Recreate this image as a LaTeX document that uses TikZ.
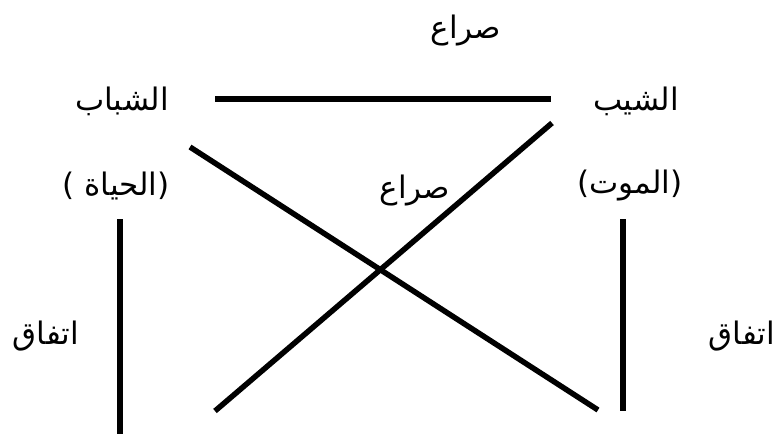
\documentclass[tikz,border=0pt]{standalone}
\usepackage{fontspec}
\newfontfamily\arabicfont[Script=Arabic]{DejaVu Sans}
\TeXXeTstate=1
\tikzset{
  term/.style={font=\arabicfont\fontsize{31}{36}\selectfont, inner sep=0pt, anchor=center},
  rel/.style={line width=5.5pt, black}
}
\newcommand{\ar}[1]{\beginR #1\endR}

\begin{document}
\begin{tikzpicture}[x=1pt,y=-1pt]
  \useasboundingbox (0,0) rectangle (784,434);
  % terms
  \node[term] (youth) at (122,101) {\ar{الشباب}};
  \node[term] (oldage) at (636,101) {\ar{الشيب}};
  \node[term] (life) at (116,186) {\ar{(الحياة )}};
  \node[term] (death) at (630,186) {\ar{(الموت)}};
  % relations
  \node[term] (conflicttop) at (466,31) {\ar{صراع}};
  \node[term] (conflictmid) at (415,191) {\ar{صراع}};
  \node[term] (agreeleft) at (46,336) {\ar{اتفاق}};
  \node[term] (agreeright) at (742,336) {\ar{اتفاق}};

  \coordinate (topL) at (215,99);
  \coordinate (topR) at (551,99);
  \coordinate (diagAa) at (190,147);
  \coordinate (diagAb) at (598,410);
  \coordinate (diagBa) at (552,123);
  \coordinate (diagBb) at (215,411);
  \coordinate (vertLa) at (120,219);
  \coordinate (vertLb) at (120,434);
  \coordinate (vertRa) at (623,219);
  \coordinate (vertRb) at (623,411);

  \draw[rel] (topL) -- (topR);
  \draw[rel] (diagAa) -- (diagAb);
  \draw[rel] (diagBa) -- (diagBb);
  \draw[rel] (vertLa) -- (vertLb);
  \draw[rel] (vertRa) -- (vertRb);
\end{tikzpicture}
\end{document}
